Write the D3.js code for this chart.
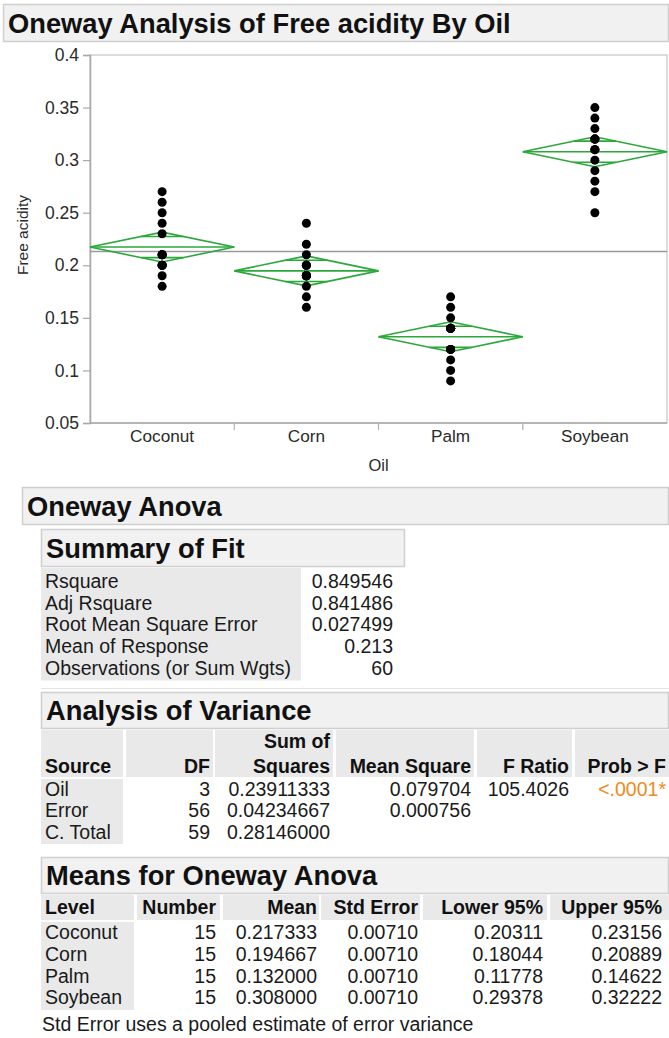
<!DOCTYPE html>
<html>
<head>
<meta charset="utf-8">
<script src="https://cdn.jsdelivr.net/npm/d3@7/dist/d3.min.js"></script>
<style>
  html, body { margin: 0; padding: 0; background: #fff; }
  svg { display: block; font-family: "Liberation Sans", Arial, Helvetica, sans-serif; }
</style>
</head>
<body>
<svg id="report" width="669" height="1038"></svg>
<script>
// ---- Data ----------------------------------------------------------------
const categories = ["Coconut", "Corn", "Palm", "Soybean"];
const coconut = [0.18, 0.19, 0.20, 0.20, 0.20, 0.20, 0.21, 0.21, 0.21, 0.21, 0.23, 0.24, 0.25, 0.26, 0.27];
const corn    = [0.16, 0.17, 0.18, 0.19, 0.19, 0.19, 0.19, 0.19, 0.19, 0.20, 0.20, 0.20, 0.21, 0.22, 0.24];
const palm    = [0.09, 0.10, 0.11, 0.12, 0.12, 0.12, 0.14, 0.14, 0.14, 0.14, 0.14, 0.14, 0.15, 0.16, 0.17];
const soybean = [0.25, 0.27, 0.28, 0.29, 0.30, 0.31, 0.31, 0.31, 0.32, 0.32, 0.32, 0.32, 0.33, 0.34, 0.35];
const groupValues = [coconut, corn, palm, soybean];

const levelMeans = [0.217333, 0.194667, 0.132000, 0.308000];
const levelN     = [15, 15, 15, 15];
const levelSE    = [0.00710, 0.00710, 0.00710, 0.00710];
const lower95    = [0.20311, 0.18044, 0.11778, 0.29378];
const upper95    = [0.23156, 0.20889, 0.14622, 0.32222];
const grandMean  = 0.213;

const yTicks = [0.05, 0.1, 0.15, 0.2, 0.25, 0.3, 0.35, 0.4];
const yTickLabels = ["0.05", "0.1", "0.15", "0.2", "0.25", "0.3", "0.35", "0.4"];

const fitLabels = ["Rsquare", "Adj Rsquare", "Root Mean Square Error", "Mean of Response", "Observations (or Sum Wgts)"];
const fitValues = ["0.849546", "0.841486", "0.027499", "0.213", "60"];

const anovaSource = ["Oil", "Error", "C. Total"];
const anovaDF     = ["3", "56", "59"];
const anovaSS     = ["0.23911333", "0.04234667", "0.28146000"];
const anovaMS     = ["0.079704", "0.000756", ""];
const anovaF      = ["105.4026", "", ""];
const anovaProb   = ["<.0001*", "", ""];

// ---- Setup ---------------------------------------------------------------
const svg = d3.select("#report");
const FONT = "'Liberation Sans', Arial, Helvetica, sans-serif";
const BAR_FILL = "#f1f1f1", BAR_STROKE = "#cfcfcf";
const CELL_FILL = "#e9e9e9";
const GREEN = "#2aa83a";
const TXT = 19.5;          // table text size
const HEAD = 27.3;         // outline title size

function titleBar(x0, x1, y0, y1, label) {
  svg.append("rect")
    .attr("x", x0 + 0.5).attr("y", y0 + 0.5)
    .attr("width", x1 - x0 - 1).attr("height", y1 - y0)
    .attr("fill", BAR_FILL).attr("stroke", BAR_STROKE).attr("stroke-width", 1.5);
  svg.append("text")
    .attr("x", x0 + 5).attr("y", y1 - 8)
    .attr("font-size", HEAD).attr("font-weight", "bold").attr("fill", "#111")
    .text(label);
}

// ---- Oneway chart --------------------------------------------------------
titleBar(3, 669, 4, 41, "Oneway Analysis of Free acidity By Oil");

const plot = { left: 90, right: 667, top: 55, bottom: 423 };

const x = d3.scaleBand().domain(categories).range([plot.left, plot.right]).padding(0);
const y = d3.scaleLinear().domain([0.05, 0.4]).range([plot.bottom, plot.top]);

const chart = svg.append("g");

// frame
chart.append("rect")
  .attr("x", plot.left).attr("y", plot.top)
  .attr("width", plot.right - plot.left).attr("height", plot.bottom - plot.top)
  .attr("fill", "none").attr("stroke", "#d0d0d0").attr("stroke-width", 1.5);

// y axis
const yAxis = d3.axisLeft(y).tickValues(yTicks)
  .tickFormat((d, i) => yTickLabels[i]).tickSize(7).tickPadding(4);
const yg = chart.append("g").attr("transform", `translate(${plot.left},0)`).call(yAxis);
yg.select(".domain").attr("stroke", "#a8a8a8").attr("stroke-width", 1.5);
yg.selectAll(".tick line").attr("stroke", "#a8a8a8").attr("stroke-width", 1.2);
yg.selectAll(".tick text").attr("font-family", FONT).attr("font-size", 17.5).attr("fill", "#2a2a2a");

// x axis: separators between levels, labels centred in each band
const xAxisG = chart.append("g").attr("transform", `translate(0,${plot.bottom})`);
xAxisG.append("line")
  .attr("x1", plot.left).attr("x2", plot.right)
  .attr("stroke", "#a8a8a8").attr("stroke-width", 1.5);
xAxisG.selectAll("line.sep")
  .data(categories.slice(1))
  .join("line").attr("class", "sep")
  .attr("x1", d => x(d)).attr("x2", d => x(d))
  .attr("y1", 0).attr("y2", 7)
  .attr("stroke", "#b0b0b0").attr("stroke-width", 1.2);
xAxisG.selectAll("text")
  .data(categories)
  .join("text")
  .attr("x", d => x(d) + x.bandwidth() / 2).attr("y", 19)
  .attr("text-anchor", "middle")
  .attr("font-family", FONT).attr("font-size", 17.2).attr("fill", "#2a2a2a")
  .text(d => d);

// axis titles
svg.append("text")
  .attr("x", (plot.left + plot.right) / 2).attr("y", 471)
  .attr("text-anchor", "middle").attr("font-size", 16.5).attr("fill", "#2a2a2a")
  .text("Oil");
svg.append("text")
  .attr("transform", `translate(28,${(plot.top + plot.bottom) / 2 - 4}) rotate(-90)`)
  .attr("text-anchor", "middle").attr("font-size", 15.5).attr("fill", "#2a2a2a")
  .text("Free acidity");

// grand mean
chart.append("line")
  .attr("x1", plot.left).attr("x2", plot.right)
  .attr("y1", y(grandMean)).attr("y2", y(grandMean))
  .attr("stroke", "#9a9a9a").attr("stroke-width", 1.5);

// means diamonds with mean line and overlap marks
const diamonds = chart.append("g");
categories.forEach((c, i) => {
  const x0 = x(c), x1 = x(c) + x.bandwidth(), xc = (x0 + x1) / 2;
  const m = levelMeans[i], lo = lower95[i], hi = upper95[i];
  const g = diamonds.append("g").attr("fill", "none").attr("stroke", GREEN).attr("stroke-width", 1.6);
  g.append("path").attr("d", d3.line()([[x0, y(m)], [xc, y(hi)], [x1, y(m)], [xc, y(lo)], [x0, y(m)]]));
  g.append("line").attr("x1", x0).attr("x2", x1).attr("y1", y(m)).attr("y2", y(m));
  const k = 1 / Math.SQRT2;
  const hw = (x.bandwidth() / 2) * (1 - k);
  [m + (hi - m) * k, m - (m - lo) * k].forEach(v => {
    g.append("line").attr("x1", xc - hw).attr("x2", xc + hw).attr("y1", y(v)).attr("y2", y(v));
  });
});

// observations
const points = chart.append("g");
categories.forEach((c, i) => {
  points.selectAll(null)
    .data(groupValues[i])
    .join("circle")
    .attr("cx", x(c) + x.bandwidth() / 2)
    .attr("cy", d => y(d))
    .attr("r", 4.5)
    .attr("fill", "#000");
});

// ---- Oneway Anova report -------------------------------------------------
titleBar(22, 669, 487, 524, "Oneway Anova");
titleBar(41, 405, 529, 566, "Summary of Fit");

const fitTop = 568, fitRow = 21.7;
svg.append("rect").attr("x", 41).attr("y", fitTop).attr("width", 260)
  .attr("height", fitRow * fitLabels.length + 4).attr("fill", CELL_FILL);
fitLabels.forEach((lab, i) => {
  const by = fitTop + fitRow * i + 20;
  svg.append("text").attr("x", 45).attr("y", by).attr("font-size", TXT).attr("fill", "#1a1a1a").text(lab);
  svg.append("text").attr("x", 393).attr("y", by).attr("text-anchor", "end")
    .attr("font-size", TXT).attr("fill", "#1a1a1a").text(fitValues[i]);
});
svg.append("line").attr("x1", 41).attr("x2", 669).attr("y1", 688.5).attr("y2", 688.5)
  .attr("stroke", "#e4e4e4").attr("stroke-width", 1);

// Analysis of Variance
titleBar(41, 669, 692, 728, "Analysis of Variance");
const aovCols = [
  { x0: 41,  x1: 123, anchor: "start", tx: 45 },
  { x0: 126, x1: 213, anchor: "end",   tx: 210 },
  { x0: 215, x1: 333, anchor: "end",   tx: 330 },
  { x0: 336, x1: 474, anchor: "end",   tx: 471 },
  { x0: 477, x1: 572, anchor: "end",   tx: 569 },
  { x0: 575, x1: 669, anchor: "end",   tx: 666 }
];
const aovHead = [["", "Source"], ["", "DF"], ["Sum of", "Squares"], ["", "Mean Square"], ["", "F Ratio"], ["", "Prob > F"]];
aovCols.forEach((c, j) => {
  svg.append("rect").attr("x", c.x0).attr("y", 730).attr("width", c.x1 - c.x0).attr("height", 47).attr("fill", CELL_FILL);
  aovHead[j].forEach((t, r) => {
    if (!t) return;
    svg.append("text").attr("x", c.tx).attr("y", 748 + r * 25).attr("text-anchor", c.anchor)
      .attr("font-size", TXT).attr("font-weight", "bold").attr("fill", "#111").text(t);
  });
});
svg.append("rect").attr("x", 41).attr("y", 779).attr("width", 82).attr("height", 65).attr("fill", CELL_FILL);
const aovColumns = [anovaSource, anovaDF, anovaSS, anovaMS, anovaF, anovaProb];
anovaSource.forEach((s, i) => {
  const by = 796 + i * 21.3;
  aovColumns.forEach((col, j) => {
    const c = aovCols[j];
    svg.append("text").attr("x", c.tx).attr("y", by).attr("text-anchor", c.anchor)
      .attr("font-size", TXT).attr("fill", j === 5 ? "#f08a1c" : "#1a1a1a").text(col[i]);
  });
});

// Means for Oneway Anova
titleBar(41, 669, 857, 893, "Means for Oneway Anova");
const meanCols = [
  { x0: 41,  x1: 134, anchor: "start", tx: 45 },
  { x0: 137, x1: 220, anchor: "end",   tx: 216 },
  { x0: 223, x1: 319, anchor: "end",   tx: 317 },
  { x0: 321, x1: 420, anchor: "end",   tx: 418 },
  { x0: 423, x1: 547, anchor: "end",   tx: 543 },
  { x0: 550, x1: 669, anchor: "end",   tx: 662 }
];
const meanHead = ["Level", "Number", "Mean", "Std Error", "Lower 95%", "Upper 95%"];
meanCols.forEach((c, j) => {
  svg.append("rect").attr("x", c.x0).attr("y", 895).attr("width", c.x1 - c.x0).attr("height", 25).attr("fill", CELL_FILL);
  svg.append("text").attr("x", c.tx).attr("y", 914).attr("text-anchor", c.anchor)
    .attr("font-size", TXT).attr("font-weight", "bold").attr("fill", "#111").text(meanHead[j]);
});
svg.append("rect").attr("x", 41).attr("y", 922).attr("width", 93).attr("height", 88).attr("fill", CELL_FILL);
const fmt6 = d3.format(".6f"), fmt5 = d3.format(".5f");
const meanRows = categories.map((c, i) => [c, String(levelN[i]), fmt6(levelMeans[i]), fmt5(levelSE[i]), fmt5(lower95[i]), fmt5(upper95[i])]);
meanRows.forEach((row, i) => {
  const by = 939 + i * 21.8;
  row.forEach((t, j) => {
    const c = meanCols[j];
    svg.append("text").attr("x", c.tx).attr("y", by).attr("text-anchor", c.anchor)
      .attr("font-size", TXT).attr("fill", "#1a1a1a").text(t);
  });
});
svg.append("text").attr("x", 42).attr("y", 1031).attr("font-size", TXT).attr("fill", "#1a1a1a")
  .text("Std Error uses a pooled estimate of error variance");
</script>
</body>
</html>
